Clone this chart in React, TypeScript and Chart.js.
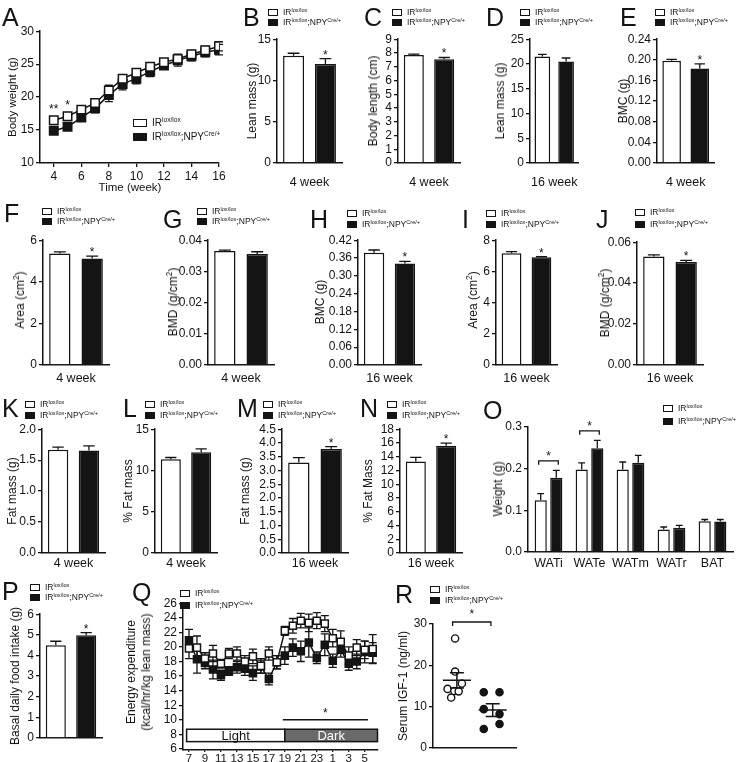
import React, { useEffect, useRef } from "react";
import { Chart, registerables } from "chart.js";

Chart.register(...registerables);

const FONT = '"Liberation Sans", Arial, Helvetica, sans-serif';
const INK = "#141414";
const DARK_FILL = "#6a6a6a";
Chart.defaults.font.family = FONT;
Chart.defaults.color = INK;

// ======================= DATA =======================
const groupParts: [string, string][][] = [
  [["IR", "lox/lox"]],
  [["IR", "lox/lox"], [";NPY", "Cre/+"]],
];

// A – body weight
const weeks = [4, 5, 6, 7, 8, 9, 10, 11, 12, 13, 14, 15, 16];
const bodyWeightCtrl = [16.5, 17.1, 18.1, 19.1, 21.0, 22.8, 23.7, 24.6, 25.3, 25.8, 26.5, 27.1, 27.7];
const bodyWeightCtrlSem = [0.3, 0.3, 0.3, 0.4, 0.8, 0.5, 0.5, 0.5, 0.4, 0.5, 0.6, 0.6, 0.7];
const bodyWeightKo = [14.9, 15.5, 16.9, 18.3, 20.3, 22.0, 22.8, 23.9, 24.8, 25.6, 26.2, 26.8, 27.2];
const bodyWeightKoSem = [0.2, 0.2, 0.3, 0.7, 1.0, 0.9, 0.8, 0.8, 0.6, 0.9, 0.7, 0.7, 0.8];
const bodyWeightSig = ["**", "*", "", "", "", "", "", "", "", "", "", "", ""];
const bodyWeightYTicks = [10, 15, 20, 25, 30];
const bodyWeightXTicks = [4, 6, 8, 10, 12, 14, 16];

// B – J, K – N, P : two-group bar panels [control, knockout]
const leanMass4w = [13.0, 12.0];
const leanMass4wSem = [0.3, 0.65];
const leanMass4wSig = ["", "*"];
const leanMass4wTicks = [0, 5, 10, 15];

const bodyLength4w = [7.85, 7.55];
const bodyLength4wSem = [0.06, 0.12];
const bodyLength4wSig = ["", "*"];
const bodyLength4wTicks = [0, 1, 2, 3, 4, 5, 6, 7, 8, 9];

const leanMass16w = [21.5, 20.5];
const leanMass16wSem = [0.45, 0.7];
const leanMass16wSig = ["", ""];
const leanMass16wTicks = [0, 5, 10, 15, 20, 25];

const bmc4w = [0.198, 0.183];
const bmc4wSem = [0.003, 0.009];
const bmc4wSig = ["", "*"];
const bmc4wTicks = [0, 0.04, 0.08, 0.12, 0.16, 0.2, 0.24];

const area4w = [5.36, 5.12];
const area4wSem = [0.08, 0.11];
const area4wSig = ["", "*"];
const area4wTicks = [0, 2, 4, 6];

const bmd4w = [0.0365, 0.0356];
const bmd4wSem = [0.0003, 0.0007];
const bmd4wSig = ["", ""];
const bmd4wTicks = [0, 0.01, 0.02, 0.03, 0.04];

const bmc16w = [0.378, 0.342];
const bmc16wSem = [0.009, 0.007];
const bmc16wSig = ["", "*"];
const bmc16wTicks = [0, 0.06, 0.12, 0.18, 0.24, 0.3, 0.36, 0.42];

const area16w = [7.17, 6.9];
const area16wSem = [0.1, 0.04];
const area16wSig = ["", "*"];
const area16wTicks = [0, 2, 4, 6, 8];

const bmd16w = [0.053, 0.0503];
const bmd16wSem = [0.0008, 0.0008];
const bmd16wSig = ["", "*"];
const bmd16wTicks = [0, 0.02, 0.04, 0.06];

const fat4w = [1.667, 1.656];
const fat4wSem = [0.045, 0.075];
const fat4wSig = ["", ""];
const fat4wTicks = [0, 0.5, 1.0, 1.5, 2.0];

const pctFat4w = [11.37, 12.2];
const pctFat4wSem = [0.2, 0.42];
const pctFat4wSig = ["", ""];
const pctFat4wTicks = [0, 5, 10, 15];

const fat16w = [3.29, 3.78];
const fat16wSem = [0.18, 0.09];
const fat16wSig = ["", "*"];
const fat16wTicks = [0, 0.5, 1.0, 1.5, 2.0, 2.5, 3.0, 3.5, 4.0, 4.5];

const pctFat16w = [13.3, 15.6];
const pctFat16wSem = [0.6, 0.37];
const pctFat16wSig = ["", "*"];
const pctFat16wTicks = [0, 2, 4, 6, 8, 10, 12, 14, 16, 18];

const foodIntake = [4.5, 4.98];
const foodIntakeSem = [0.19, 0.13];
const foodIntakeSig = ["", "*"];
const foodIntakeTicks = [0, 1, 2, 3, 4, 5, 6];

// O – fat depots
const depots = ["WATi", "WATe", "WATm", "WATr", "BAT"];
const depotCtrl = [0.124, 0.198, 0.198, 0.054, 0.074];
const depotCtrlSem = [0.016, 0.016, 0.018, 0.006, 0.004];
const depotKo = [0.178, 0.249, 0.214, 0.058, 0.073];
const depotKoSem = [0.018, 0.019, 0.018, 0.006, 0.005];
const depotSig = ["*", "*", "", "", ""];
const depotTicks = [0, 0.1, 0.2, 0.3];

// Q – energy expenditure over 24 h
const eeHours = [7, 8, 9, 10, 11, 12, 13, 14, 15, 16, 17, 18, 19, 20, 21, 22, 23, 0, 1, 2, 3, 4, 5, 6];
const eeCtrl = [19.8, 19.9, 18.4, 19.1, 17.7, 19.1, 19.1, 18.0, 18.7, 17.4, 19.1, 17.9, 22.2, 22.9, 23.6, 23.3, 23.6, 23.2, 21.2, 20.7, 18.8, 19.9, 19.6, 19.7];
const eeCtrlSem = [1.4, 1.6, 0.8, 1.1, 0.6, 0.7, 0.9, 0.8, 1.0, 1.0, 0.9, 0.9, 0.6, 1.0, 1.0, 1.2, 1.1, 1.1, 1.2, 1.5, 1.2, 1.1, 1.2, 2.0];
const eeKo = [20.9, 18.3, 17.8, 16.9, 16.1, 16.7, 17.2, 17.0, 16.4, 17.3, 15.6, 17.9, 18.8, 19.9, 19.4, 20.6, 18.5, 20.3, 18.1, 19.6, 17.7, 18.0, 19.3, 19.2];
const eeKoSem = [1.5, 1.9, 0.8, 1.3, 0.7, 0.6, 0.8, 0.9, 1.0, 0.9, 0.8, 0.9, 1.2, 1.2, 1.4, 2.0, 0.8, 1.5, 0.9, 1.0, 0.9, 1.0, 1.5, 1.4];
const eeYTicks = [6, 8, 10, 12, 14, 16, 18, 20, 22, 24, 26];
const eeXTickIdx = [0, 2, 4, 6, 8, 10, 12, 14, 16, 18, 20, 22];
const eePhaseNames = ["Light", "Dark"];
const eePhaseFrom = [-0.3, 12];
const eePhaseTo = [12, 23.6];
const eePhaseBand = [7.0, 8.7];
const eeSigSpan = [11.75, 22.4];
const eeSigLevel = 10.0;

// R – serum IGF-1
const igfCtrl = [26.5, 18.5, 14.3, 12.2, 13.8, 13.7, 15.6];
const igfCtrlJitter = [-0.05, -0.05, -0.26, -0.16, -0.07, 0.05, 0.14];
const igfKo = [13.5, 13.5, 9.4, 8.2, 5.8, 4.6];
const igfKoJitter = [-0.25, 0.19, -0.25, 0.19, 0.19, -0.25];
const igfTicks = [0, 10, 20, 30];

// ======================= HELPERS =======================
function drawErrors(chart: any, mode: string) {
  const ctx = chart.ctx;
  const ys = chart.scales.y;
  chart.data.datasets.forEach((ds: any, i: number) => {
    if (!ds.errors || ds.errMode !== mode) return;
    const meta = chart.getDatasetMeta(i);
    meta.data.forEach((el: any, j: number) => {
      const raw = ds.data[j];
      const v = typeof raw === "number" ? raw : raw.y;
      const e = ds.errors[j] || 0;
      const x = el.x;
      const yTop = ys.getPixelForValue(v + e);
      const yBot = mode === "both" ? ys.getPixelForValue(v - e) : ys.getPixelForValue(v);
      const cap = ds.errCap ?? el.width * 0.28;
      ctx.save();
      ctx.strokeStyle = INK;
      ctx.lineWidth = 1.3;
      if (e > 0) {
        ctx.beginPath();
        ctx.moveTo(x, yBot);
        ctx.lineTo(x, yTop);
        ctx.moveTo(x - cap, yTop);
        ctx.lineTo(x + cap, yTop);
        if (mode === "both") {
          ctx.moveTo(x - cap, yBot);
          ctx.lineTo(x + cap, yBot);
        }
        ctx.stroke();
      }
      const s = ds.stars && ds.stars[j];
      if (s) {
        ctx.fillStyle = INK;
        ctx.font = `12px ${FONT}`;
        ctx.textAlign = "center";
        ctx.textBaseline = "alphabetic";
        const base = mode === "both" ? Math.min(yTop, el.y - 6) - 1 : yTop;
        ctx.fillText(s, x, base);
      }
      ctx.restore();
    });
  });
}

const errorBars = {
  id: "errorBars",
  beforeDatasetsDraw(chart: any) {
    drawErrors(chart, "both");
  },
  afterDatasetsDraw(chart: any) {
    drawErrors(chart, "up");
  },
};

function linY(ticks: number[], dec: number, min?: number, max?: number) {
  return {
    type: "linear",
    min: min ?? ticks[0],
    max: max ?? ticks[ticks.length - 1],
    afterBuildTicks: (s: any) => {
      s.ticks = ticks.map((v) => ({ value: v }));
    },
    ticks: {
      font: { size: 12 },
      color: INK,
      padding: 2,
      autoSkip: false,
      callback: (v: any) => Number(v).toFixed(dec),
    },
    grid: { display: true, drawOnChartArea: false, drawTicks: true, tickLength: 4, color: INK, lineWidth: 1.3 },
    border: { display: true, color: INK, width: 1.5 },
  };
}

function catX(showLabels = true, pad = 12) {
  return {
    type: "category",
    grid: { display: false, drawTicks: false },
    border: { display: true, color: INK, width: 1.5 },
    ticks: {
      display: showLabels,
      font: { size: 12.5 },
      color: INK,
      padding: pad,
      autoSkip: false,
      maxRotation: 0,
      minRotation: 0,
    },
  };
}

function barDataset(values: number[], sems: number[], sigs: string[], idx: number, catPct: number, barPct: number) {
  return {
    data: values,
    errors: sems,
    stars: sigs,
    errMode: "up",
    backgroundColor: idx === 0 ? "#ffffff" : INK,
    borderColor: INK,
    borderWidth: 1.5,
    borderSkipped: "bottom",
    categoryPercentage: catPct,
    barPercentage: barPct,
  };
}

function twoBarCfg(xlabel: string | null, means: number[], sems: number[], sigs: string[], ticks: number[], dec: number, pad: number) {
  return {
    type: "bar",
    data: {
      labels: [xlabel ?? ""],
      datasets: [0, 1].map((g) => barDataset([means[g]], [sems[g]], [sigs[g]], g, 0.98, 0.66)),
    },
    options: { scales: { x: catX(xlabel !== null, pad), y: linY(ticks, dec) } },
    plugins: [errorBars],
  };
}

type Plot = { l: number; r: number; t: number; b: number };
type Frame = { plot: Plot; axisW?: number; axisH?: number; padT?: number; padR?: number };

function ChartBox({ frame, build }: { frame: Frame; build: () => any }) {
  const ref = useRef<HTMLCanvasElement>(null);
  const axisW = frame.axisW ?? 40;
  const axisH = frame.axisH ?? 26;
  const padT = frame.padT ?? 9;
  const padR = frame.padR ?? 5;
  const { l, r, t, b } = frame.plot;
  const left = l - axisW;
  const top = t - padT;
  const width = r - l + axisW + padR;
  const height = b - t + padT + axisH;
  useEffect(() => {
    const cfg = build();
    const o = cfg.options;
    o.responsive = false;
    o.maintainAspectRatio = false;
    o.animation = false;
    o.devicePixelRatio = 1;
    o.layout = { padding: { left: 0, top: padT, right: padR, bottom: 0 } };
    o.scales.y.afterFit = (s: any) => {
      s.width = axisW;
    };
    o.scales.x.afterFit = (s: any) => {
      s.height = axisH;
    };
    o.plugins = { ...(o.plugins || {}), legend: { display: false }, tooltip: { enabled: false } };
    const chart = new Chart(ref.current as HTMLCanvasElement, cfg);
    return () => chart.destroy();
  }, []);
  return (
    <canvas
      ref={ref}
      width={width}
      height={height}
      style={{ position: "absolute", left, top, width, height, display: "block" }}
    />
  );
}

function Txt({ x, y, size, children, align = "left", color = INK }: any) {
  const tr = align === "center" ? "translateX(-50%)" : align === "right" ? "translateX(-100%)" : undefined;
  return (
    <div
      style={{
        position: "absolute",
        left: x,
        top: y - size * 0.8465,
        fontSize: size,
        lineHeight: `${size}px`,
        whiteSpace: "nowrap",
        color,
        transform: tr,
      }}
    >
      {children}
    </div>
  );
}

function VTxt({ cx, cy, size = 12, children }: any) {
  return (
    <div
      style={{
        position: "absolute",
        left: cx,
        top: cy,
        fontSize: size,
        lineHeight: `${size}px`,
        whiteSpace: "nowrap",
        color: INK,
        transform: "translate(-50%,-50%) rotate(-90deg)",
      }}
    >
      {children}
    </div>
  );
}

function GroupLabel({ parts, size }: { parts: [string, string][]; size: number }) {
  return (
    <>
      {parts.map(([b, s], k) => (
        <React.Fragment key={k}>
          {b}
          <span style={{ fontSize: size * 0.66, position: "relative", top: -size * 0.38 }}>{s}</span>
        </React.Fragment>
      ))}
    </>
  );
}

function Legend({ x, y1, y2, size = 8.5, bw = 10, bh = 7, gap = 5 }: any) {
  return (
    <>
      {[y1, y2].map((yc: number, i: number) => (
        <React.Fragment key={i}>
          <div
            style={{
              position: "absolute",
              left: x,
              top: yc - bh / 2,
              width: bw,
              height: bh,
              boxSizing: "border-box",
              border: `1.5px solid ${INK}`,
              background: i === 0 ? "#fff" : INK,
            }}
          />
          <Txt x={x + bw + gap} y={yc + size * 0.36} size={size}>
            <GroupLabel parts={groupParts[i]} size={size} />
          </Txt>
        </React.Fragment>
      ))}
    </>
  );
}

// ======================= CHART BUILDERS =======================
function lineDataset(xs: number[], ys: number[], sems: number[], fill: string, radius: number, cap: number, stars?: string[]) {
  return {
    data: ys.map((y, i) => ({ x: xs[i], y })),
    errors: sems,
    stars,
    errMode: "both",
    errCap: cap,
    borderColor: INK,
    borderWidth: 1.5,
    pointStyle: "rect",
    pointRadius: radius,
    pointBackgroundColor: fill,
    pointBorderColor: INK,
    pointBorderWidth: 1.5,
    tension: 0,
    fill: false,
  };
}

function bodyWeightCfg() {
  return {
    type: "line",
    data: {
      datasets: [
        lineDataset(weeks, bodyWeightCtrl, bodyWeightCtrlSem, "#fff", 6, 4, bodyWeightSig),
        lineDataset(weeks, bodyWeightKo, bodyWeightKoSem, INK, 6, 4),
      ],
    },
    options: {
      scales: {
        x: {
          type: "linear",
          min: 3,
          max: 16,
          afterBuildTicks: (s: any) => {
            s.ticks = bodyWeightXTicks.map((v) => ({ value: v }));
          },
          ticks: { font: { size: 12 }, color: INK, padding: 2, autoSkip: false, maxRotation: 0 },
          grid: { display: true, drawOnChartArea: false, tickLength: 4, color: INK, lineWidth: 1.3 },
          border: { display: true, color: INK, width: 1.5 },
        },
        y: linY(bodyWeightYTicks, 0),
      },
    },
    plugins: [errorBars],
  };
}

const depotExtra = {
  id: "depotExtra",
  afterDatasetsDraw(chart: any) {
    const ctx = chart.ctx;
    const ys = chart.scales.y;
    const m0 = chart.getDatasetMeta(0).data;
    const m1 = chart.getDatasetMeta(1).data;
    depotSig.forEach((s, j) => {
      if (!s) return;
      const top = Math.min(ys.getPixelForValue(depotCtrl[j] + depotCtrlSem[j]), ys.getPixelForValue(depotKo[j] + depotKoSem[j]));
      const yb = top - 9.5;
      const x0 = m0[j].x - 2;
      const x1 = m1[j].x + 2;
      ctx.save();
      ctx.strokeStyle = INK;
      ctx.lineWidth = 1.3;
      ctx.beginPath();
      ctx.moveTo(x0, yb + 4);
      ctx.lineTo(x0, yb);
      ctx.lineTo(x1, yb);
      ctx.lineTo(x1, yb + 4);
      ctx.stroke();
      ctx.fillStyle = INK;
      ctx.font = `12px ${FONT}`;
      ctx.textAlign = "center";
      ctx.fillText(s, (x0 + x1) / 2, yb - 1);
      ctx.restore();
    });
  },
};

function depotCfg() {
  return {
    type: "bar",
    data: {
      labels: depots,
      datasets: [
        barDataset(depotCtrl, depotCtrlSem, ["", "", "", "", ""], 0, 0.76, 0.78),
        barDataset(depotKo, depotKoSem, ["", "", "", "", ""], 1, 0.76, 0.78),
      ],
    },
    options: { scales: { x: catX(true, 4), y: linY(depotTicks, 1) } },
    plugins: [errorBars, depotExtra],
  };
}

const eeExtra = {
  id: "eeExtra",
  afterDatasetsDraw(chart: any) {
    const ctx = chart.ctx;
    const xs = chart.scales.x;
    const ys = chart.scales.y;
    ctx.save();
    const yTop = ys.getPixelForValue(eePhaseBand[1]);
    const yBot = ys.getPixelForValue(eePhaseBand[0]);
    eePhaseNames.forEach((name, k) => {
      const x0 = xs.getPixelForValue(eePhaseFrom[k]);
      const x1 = xs.getPixelForValue(eePhaseTo[k]);
      ctx.fillStyle = k === 0 ? "#fff" : DARK_FILL;
      ctx.fillRect(x0, yTop, x1 - x0, yBot - yTop);
      ctx.strokeStyle = INK;
      ctx.lineWidth = 1.5;
      ctx.strokeRect(x0, yTop, x1 - x0, yBot - yTop);
      ctx.fillStyle = k === 0 ? INK : "#fff";
      ctx.font = `13px ${FONT}`;
      ctx.textAlign = "center";
      ctx.textBaseline = "middle";
      ctx.fillText(name, (x0 + x1) / 2, (yTop + yBot) / 2 + 0.5);
    });
    const ly = ys.getPixelForValue(eeSigLevel);
    ctx.strokeStyle = INK;
    ctx.lineWidth = 1.3;
    ctx.beginPath();
    ctx.moveTo(xs.getPixelForValue(eeSigSpan[0]), ly);
    ctx.lineTo(xs.getPixelForValue(eeSigSpan[1]), ly);
    ctx.stroke();
    ctx.fillStyle = INK;
    ctx.font = `12px ${FONT}`;
    ctx.textAlign = "center";
    ctx.textBaseline = "alphabetic";
    ctx.fillText("*", xs.getPixelForValue((eeSigSpan[0] + eeSigSpan[1]) / 2), ly - 3);
    ctx.restore();
  },
};

function eeCfg() {
  const idx = eeHours.map((_, i) => i);
  return {
    type: "line",
    data: {
      datasets: [
        lineDataset(idx, eeCtrl, eeCtrlSem, "#fff", 5, 4),
        lineDataset(idx, eeKo, eeKoSem, INK, 5, 4),
      ],
    },
    options: {
      scales: {
        x: {
          type: "linear",
          min: -0.75,
          max: 23.6,
          afterBuildTicks: (s: any) => {
            s.ticks = eeXTickIdx.map((v) => ({ value: v }));
          },
          ticks: {
            font: { size: 11.5 },
            color: INK,
            padding: 0,
            autoSkip: false,
            maxRotation: 0,
            minRotation: 0,
            callback: (v: any) => String(eeHours[v]),
          },
          grid: { display: true, drawOnChartArea: false, tickLength: 2, color: INK, lineWidth: 1.3 },
          border: { display: true, color: INK, width: 1.5 },
        },
        y: linY(eeYTicks, 0, 5.85, 26),
      },
    },
    plugins: [errorBars, eeExtra],
  };
}

function semOf(a: number[]) {
  const m = a.reduce((s, v) => s + v, 0) / a.length;
  const v = a.reduce((s, x) => s + (x - m) * (x - m), 0) / (a.length - 1);
  return { m, e: Math.sqrt(v / a.length) };
}

const igfExtra = {
  id: "igfExtra",
  afterDatasetsDraw(chart: any) {
    const ctx = chart.ctx;
    const xs = chart.scales.x;
    const ys = chart.scales.y;
    ctx.save();
    ctx.strokeStyle = INK;
    ctx.lineWidth = 1.5;
    [igfCtrl, igfKo].forEach((arr, g) => {
      const { m, e } = semOf(arr);
      const cx = xs.getPixelForValue(g);
      const w = 14;
      const c = 7;
      const ym = ys.getPixelForValue(m);
      const yt = ys.getPixelForValue(m + e);
      const yb = ys.getPixelForValue(m - e);
      ctx.beginPath();
      ctx.moveTo(cx - w, ym);
      ctx.lineTo(cx + w, ym);
      ctx.moveTo(cx, yt);
      ctx.lineTo(cx, yb);
      ctx.moveTo(cx - c, yt);
      ctx.lineTo(cx + c, yt);
      ctx.moveTo(cx - c, yb);
      ctx.lineTo(cx + c, yb);
      ctx.stroke();
    });
    const yb = ys.top - 2;
    const x0 = xs.getPixelForValue(-0.12);
    const x1 = xs.getPixelForValue(0.95);
    ctx.lineWidth = 1.3;
    ctx.beginPath();
    ctx.moveTo(x0, yb + 4);
    ctx.lineTo(x0, yb);
    ctx.lineTo(x1, yb);
    ctx.lineTo(x1, yb + 4);
    ctx.stroke();
    ctx.fillStyle = INK;
    ctx.font = `12px ${FONT}`;
    ctx.textAlign = "center";
    ctx.fillText("*", (x0 + x1) / 2, yb - 4);
    ctx.restore();
  },
};

function igfCfg() {
  const pts = (arr: number[], jit: number[], g: number) => arr.map((y, i) => ({ x: g + jit[i], y }));
  return {
    type: "scatter",
    data: {
      datasets: [
        {
          data: pts(igfCtrl, igfCtrlJitter, 0),
          pointRadius: 3.6,
          pointBackgroundColor: "#fff",
          pointBorderColor: INK,
          pointBorderWidth: 1.4,
        },
        {
          data: pts(igfKo, igfKoJitter, 1),
          pointRadius: 3.6,
          pointBackgroundColor: INK,
          pointBorderColor: INK,
          pointBorderWidth: 1.4,
        },
      ],
    },
    options: {
      scales: {
        x: {
          type: "linear",
          min: -0.667,
          max: 1.667,
          grid: { display: false, drawTicks: false },
          border: { display: true, color: INK, width: 1.5 },
          ticks: { display: false },
        },
        y: linY(igfTicks, 0),
      },
    },
    plugins: [igfExtra],
  };
}

// ======================= LAYOUT =======================
type BarPanelDef = {
  letter: [string, number, number];
  legend: [number, number, number];
  ytitle: [number, number, React.ReactNode];
  plot: Plot;
  xlabel: string | null;
  pad: number;
  means: number[];
  sems: number[];
  sigs: string[];
  ticks: number[];
  dec: number;
};

const cm2 = <>Area (cm<sup style={{ fontSize: "0.7em", lineHeight: 0 }}>2</sup>)</>;
const gcm2 = <>BMD (g/cm<sup style={{ fontSize: "0.7em", lineHeight: 0 }}>2</sup>)</>;

const barPanels: BarPanelDef[] = [
  { letter: ["B", 243, 26], legend: [268, 12, 22], ytitle: [252, 101, "Lean mass (g)"], plot: { l: 277, r: 342, t: 39, b: 163 }, xlabel: "4 week", pad: 12, means: leanMass4w, sems: leanMass4wSem, sigs: leanMass4wSig, ticks: leanMass4wTicks, dec: 0 },
  { letter: ["C", 364, 26], legend: [392, 12, 22], ytitle: [373, 101, "Body length (cm)"], plot: { l: 398, r: 460, t: 39, b: 163 }, xlabel: "4 week", pad: 12, means: bodyLength4w, sems: bodyLength4wSem, sigs: bodyLength4wSig, ticks: bodyLength4wTicks, dec: 0 },
  { letter: ["D", 486, 26], legend: [520, 12, 22], ytitle: [500, 101, "Lean mass (g)"], plot: { l: 530, r: 587, t: 39, b: 163 }, xlabel: "16 week", pad: 12, means: leanMass16w, sems: leanMass16wSem, sigs: leanMass16wSig, ticks: leanMass16wTicks, dec: 0 },
  { letter: ["E", 620, 26], legend: [655, 12, 22], ytitle: [623, 101, "BMC (g)"], plot: { l: 657, r: 715, t: 39, b: 163 }, xlabel: "4 week", pad: 12, means: bmc4w, sems: bmc4wSem, sigs: bmc4wSig, ticks: bmc4wTicks, dec: 2 },
  { letter: ["F", 4, 222], legend: [42, 211, 221], ytitle: [20, 300, cm2], plot: { l: 43, r: 109, t: 240, b: 365 }, xlabel: "4 week", pad: 6, means: area4w, sems: area4wSem, sigs: area4wSig, ticks: area4wTicks, dec: 0 },
  { letter: ["G", 163, 228], legend: [197, 211, 221], ytitle: [173, 302, gcm2], plot: { l: 208, r: 274, t: 240, b: 365 }, xlabel: "4 week", pad: 6, means: bmd4w, sems: bmd4wSem, sigs: bmd4wSig, ticks: bmd4wTicks, dec: 2 },
  { letter: ["H", 310, 228], legend: [347, 213.5, 224.5], ytitle: [320, 302, "BMC (g)"], plot: { l: 358, r: 421, t: 240, b: 365 }, xlabel: "16 week", pad: 6, means: bmc16w, sems: bmc16wSem, sigs: bmc16wSig, ticks: bmc16wTicks, dec: 2 },
  { letter: ["I", 462, 228], legend: [486, 213.5, 224.5], ytitle: [473, 300, cm2], plot: { l: 496, r: 557, t: 240, b: 365 }, xlabel: "16 week", pad: 6, means: area16w, sems: area16wSem, sigs: area16wSig, ticks: area16wTicks, dec: 0 },
  { letter: ["J", 596, 228], legend: [635, 212.5, 224.5], ytitle: [605, 303, gcm2], plot: { l: 637, r: 703, t: 242, b: 365 }, xlabel: "16 week", pad: 6, means: bmd16w, sems: bmd16wSem, sigs: bmd16wSig, ticks: bmd16wTicks, dec: 2 },
  { letter: ["K", 2, 417], legend: [25, 404.5, 415], ytitle: [12, 491, "Fat mass (g)"], plot: { l: 42, r: 105, t: 429, b: 553 }, xlabel: "4 week", pad: 3, means: fat4w, sems: fat4wSem, sigs: fat4wSig, ticks: fat4wTicks, dec: 1 },
  { letter: ["L", 123, 417], legend: [145, 404.5, 415], ytitle: [128, 491, "% Fat mass"], plot: { l: 155, r: 217, t: 429, b: 553 }, xlabel: "4 week", pad: 3, means: pctFat4w, sems: pctFat4wSem, sigs: pctFat4wSig, ticks: pctFat4wTicks, dec: 0 },
  { letter: ["M", 237, 417], legend: [263, 404.5, 415], ytitle: [245, 491, "Fat mass (g)"], plot: { l: 282, r: 348, t: 429, b: 553 }, xlabel: "16 week", pad: 3, means: fat16w, sems: fat16wSem, sigs: fat16wSig, ticks: fat16wTicks, dec: 1 },
  { letter: ["N", 360, 417], legend: [387, 404.5, 415], ytitle: [368, 491, "% Fat Mass"], plot: { l: 400, r: 462, t: 429, b: 553 }, xlabel: "16 week", pad: 3, means: pctFat16w, sems: pctFat16wSem, sigs: pctFat16wSig, ticks: pctFat16wTicks, dec: 0 },
  { letter: ["P", 2, 600], legend: [30, 587.5, 597.5], ytitle: [15, 676, "Basal daily food intake (g)"], plot: { l: 40, r: 102, t: 614, b: 738 }, xlabel: null, pad: 3, means: foodIntake, sems: foodIntakeSem, sigs: foodIntakeSig, ticks: foodIntakeTicks, dec: 0 },
];

const LETTER = 25;

export default function App() {
  useEffect(() => {
    document.body.style.margin = "0";
  }, []);
  return (
    <div
      style={{
        position: "absolute",
        left: 0,
        top: 0,
        width: 745,
        height: 762,
        overflow: "hidden",
        background: "#fff",
        fontFamily: FONT,
        color: INK,
      }}
    >
      {/* A */}
      <ChartBox frame={{ plot: { l: 40, r: 219, t: 31, b: 163 }, axisH: 22, padR: 10 }} build={bodyWeightCfg} />
      <Txt x={2} y={26} size={LETTER}>A</Txt>
      <VTxt cx={13} cy={97} size={11.5}>Body weight (g)</VTxt>
      <Txt x={130} y={192} size={11.5} align="center">Time (week)</Txt>
      <Legend x={133} y1={123} y2={136.5} size={10} bw={14} bh={8} gap={5} />

      {barPanels.map((p, k) => (
        <React.Fragment key={k}>
          <ChartBox
            frame={{ plot: p.plot, axisH: p.xlabel === null ? 10 : 26 }}
            build={() => twoBarCfg(p.xlabel, p.means, p.sems, p.sigs, p.ticks, p.dec, p.pad)}
          />
          <Txt x={p.letter[1]} y={p.letter[2]} size={LETTER}>{p.letter[0]}</Txt>
          <Legend x={p.legend[0]} y1={p.legend[1]} y2={p.legend[2]} />
          <VTxt cx={p.ytitle[0]} cy={p.ytitle[1]} size={12}>{p.ytitle[2]}</VTxt>
        </React.Fragment>
      ))}

      {/* O */}
      <ChartBox frame={{ plot: { l: 528, r: 733, t: 427, b: 552 }, axisH: 20, padT: 16, padR: 8 }} build={depotCfg} />
      <Txt x={483} y={419} size={LETTER}>O</Txt>
      <Legend x={663} y1={408.5} y2={421.5} />
      <VTxt cx={498} cy={489} size={12}>Weight (g)</VTxt>

      {/* Q */}
      <ChartBox frame={{ plot: { l: 183, r: 378, t: 603, b: 750 }, axisH: 12, padR: 6 }} build={eeCfg} />
      <Txt x={132} y={601} size={LETTER}>Q</Txt>
      <Legend x={180} y1={593} y2={605.5} />
      <VTxt cx={131} cy={672} size={12}>Energy expenditure</VTxt>
      <VTxt cx={146} cy={672} size={12}>(kcal/hr/kg lean mass)</VTxt>

      {/* R */}
      <ChartBox frame={{ plot: { l: 433, r: 517, t: 624, b: 748 }, axisH: 10, padT: 22 }} build={igfCfg} />
      <Txt x={395} y={603} size={LETTER}>R</Txt>
      <Legend x={430} y1={589.5} y2={600} />
      <VTxt cx={403} cy={686} size={12}>Serum IGF-1 (ng/ml)</VTxt>
    </div>
  );
}
